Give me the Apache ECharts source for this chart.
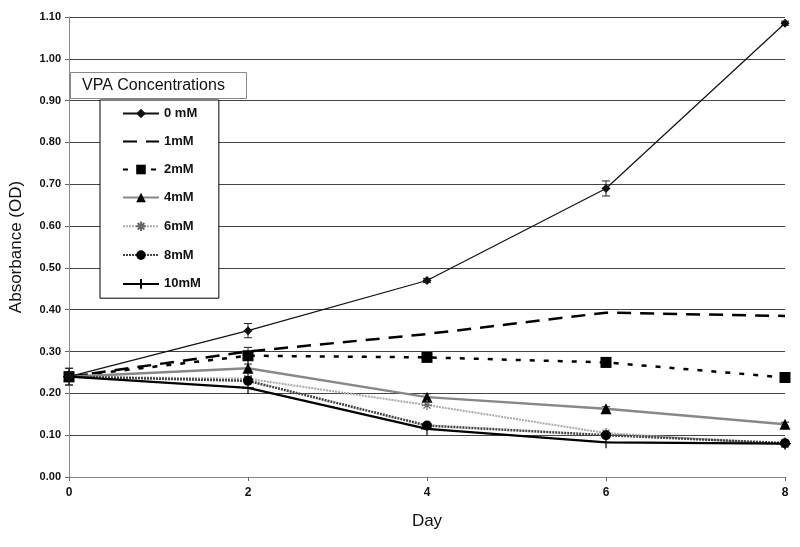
<!DOCTYPE html>
<html>
<head>
<meta charset="utf-8">
<script src="https://cdn.jsdelivr.net/npm/echarts@6/dist/echarts.min.js"></script>
<style>html,body{margin:0;padding:0;background:#fff}#c{width:800px;height:547px}</style>
</head>
<body>
<div id="c"></div>
<script>
var days = [0, 2, 4, 6, 8];
var seriesNames = ['0 mM', '1mM', '2mM', '4mM', '6mM', '8mM', '10mM'];
var v0 = [0.24, 0.35, 0.47, 0.69, 1.085];
var v1 = [0.24, 0.30, 0.342, 0.393, 0.385];
var v2 = [0.24, 0.29, 0.286, 0.274, 0.238];
var v4 = [0.24, 0.26, 0.191, 0.163, 0.126];
var v6 = [0.24, 0.235, 0.172, 0.105, 0.078];
var v8 = [0.24, 0.23, 0.123, 0.100, 0.081];
var v10 = [0.24, 0.213, 0.115, 0.083, 0.080];
var e0 = [0.02, 0.017, 0.005, 0.018, 0.005];
var e2 = [0.02, 0.02, 0.005, 0.01, 0.005];
var e4 = [0.01, 0.02, 0.008, 0.005, 0.005];
var yTicks = [0, 0.1, 0.2, 0.3, 0.4, 0.5, 0.6, 0.7, 0.8, 0.9, 1.0, 1.1];

var font = 'Liberation Sans Narrow, Liberation Sans, Arial';
function pts(v){ return days.map(function(d,i){ return [d, v[i]]; }); }
var star = 'path://M0,-10L0,10M-10,0L10,0M-7,-7L7,7M-7,7L7,-7';
var plus = 'path://M0,-10L0,10M-10,0L10,0';

function errSeries(vals, errs){
  return {
    type: 'custom', silent: true, z: 1,
    data: days.map(function(d,i){ return [d, vals[i]-errs[i], vals[i]+errs[i]]; }),
    renderItem: function(params, api){
      var lo = api.coord([api.value(0), api.value(1)]);
      var hi = api.coord([api.value(0), api.value(2)]);
      var w = 4;
      return {type:'group', children:[
        {type:'line', shape:{x1:lo[0],y1:lo[1],x2:hi[0],y2:hi[1]}, style:{stroke:'#222',lineWidth:1}},
        {type:'line', shape:{x1:lo[0]-w,y1:lo[1],x2:lo[0]+w,y2:lo[1]}, style:{stroke:'#222',lineWidth:1}},
        {type:'line', shape:{x1:hi[0]-w,y1:hi[1],x2:hi[0]+w,y2:hi[1]}, style:{stroke:'#222',lineWidth:1}}
      ]};
    }
  };
}

var legendData = seriesNames.map(function(n){
  if (n === '1mM') return {name: n, itemStyle: {color: 'transparent', borderWidth: 0, opacity: 0}};
  return {name: n};
});

var option = {
  animation: false,
  backgroundColor: '#fff',
  title: {
    text: 'VPA Concentrations', left: 70, top: 72,
    padding: [6, 22, 5, 12],
    borderColor: '#888', borderWidth: 1, backgroundColor: '#fff',
    textStyle: {fontFamily: 'Liberation Sans, Arial', fontSize: 16, fontWeight: 'normal', color: '#111'}
  },
  legend: {
    orient: 'vertical', left: 100, top: 100,
    padding: [7, 18, 7, 22],
    itemGap: 15, itemWidth: 36, itemHeight: 12,
    borderColor: '#000', borderWidth: 1, backgroundColor: '#fff',
    textStyle: {fontFamily: font, fontSize: 13, fontWeight: 'bold', color: '#111'},
    data: legendData
  },
  grid: {left: 69, right: 15, top: 17, bottom: 70, containLabel: false, outerBoundsMode: 'none'},
  xAxis: {
    type: 'value', min: 0, max: 8, interval: 2,
    name: 'Day', nameLocation: 'middle', nameGap: 36,
    nameTextStyle: {fontFamily: 'Liberation Sans, Arial', fontSize: 17, color: '#111'},
    axisLine: {lineStyle: {color: '#888'}},
    axisTick: {show: true, length: 4, lineStyle: {color: '#666'}},
    axisLabel: {fontFamily: font, fontSize: 12, fontWeight: 'bold', color: '#111', margin: 10},
    splitLine: {show: false}
  },
  yAxis: {
    type: 'value', min: 0, max: 1.1, interval: 0.1,
    name: 'Absorbance (OD)', nameLocation: 'middle', nameGap: 44,
    nameTextStyle: {fontFamily: 'Liberation Sans, Arial', fontSize: 17, color: '#111'},
    axisLine: {show: true, lineStyle: {color: '#888'}},
    axisTick: {show: true, length: 4, inside: false, lineStyle: {color: '#666'}},
    axisLabel: {fontFamily: font, fontSize: 11, fontWeight: 'bold', color: '#111', margin: 8,
      formatter: function(v){ return v.toFixed(2); }},
    splitLine: {show: true, lineStyle: {color: '#444', width: 1}}
  },
  series: [
    {name: seriesNames[0], type: 'line', data: pts(v0), symbol: 'diamond', symbolSize: 9,
      lineStyle: {color: '#111', width: 1.2}, itemStyle: {color: '#111'}, z: 5},
    {name: seriesNames[1], type: 'line', data: pts(v1), symbol: 'none',
      lineStyle: {color: '#000', width: 2.5, type: [14, 9]}, itemStyle: {color: '#000'}, z: 4},
    {name: seriesNames[2], type: 'line', data: pts(v2), symbol: 'rect', symbolSize: 11,
      lineStyle: {color: '#000', width: 2.5, type: [5, 9]}, itemStyle: {color: '#000'}, z: 4},
    {name: seriesNames[3], type: 'line', data: pts(v4), symbol: 'triangle', symbolSize: 11,
      lineStyle: {color: '#888', width: 2.5}, itemStyle: {color: '#000'}, z: 4},
    {name: seriesNames[4], type: 'line', data: pts(v6), symbol: star, symbolSize: 10,
      lineStyle: {color: '#aaa', width: 2, type: [2, 1]},
      itemStyle: {color: 'none', borderColor: '#666', borderWidth: 1.2}, z: 4},
    {name: seriesNames[5], type: 'line', data: pts(v8), symbol: 'circle', symbolSize: 10,
      lineStyle: {color: '#444', width: 2.5, type: [2, 1]}, itemStyle: {color: '#000'}, z: 4},
    {name: seriesNames[6], type: 'line', data: pts(v10), symbol: plus, symbolSize: 12,
      lineStyle: {color: '#000', width: 2.2},
      itemStyle: {color: 'none', borderColor: '#000', borderWidth: 1.2}, z: 4},
    errSeries(v0, e0), errSeries(v2, e2), errSeries(v4, e4)
  ]
};
var chart = echarts.init(document.getElementById('c'));
chart.setOption(option);
</script>
</body>
</html>
